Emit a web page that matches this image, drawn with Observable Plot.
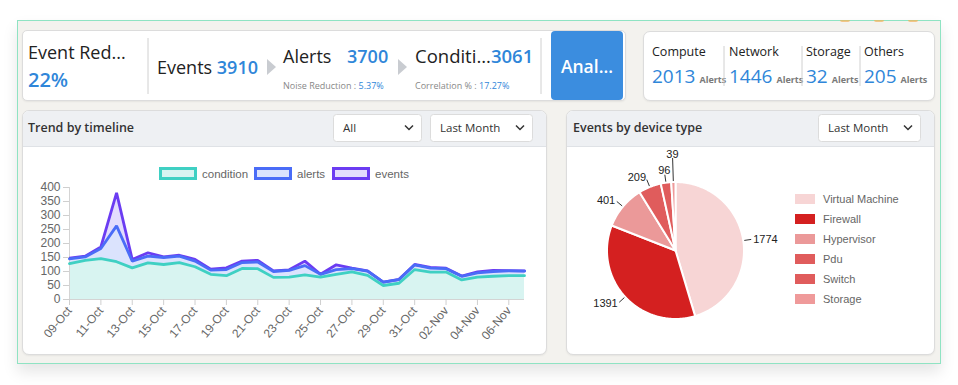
<!DOCTYPE html>
<html><head><meta charset="utf-8">
<script src="https://cdn.jsdelivr.net/npm/d3@7"></script>
<script src="https://cdn.jsdelivr.net/npm/@observablehq/plot@0.6"></script>
<style>
html,body{margin:0;padding:0;}
body{width:958px;height:385px;position:relative;overflow:hidden;background:#fff;font-family:"Open Sans","Noto Sans",sans-serif;}
.box{position:absolute;box-sizing:border-box;}
#outer{left:17px;top:20px;width:924px;height:344px;background:#f3f2ee;border:1.5px solid #8fe3c3;box-shadow:0 8px 14px rgba(0,0,0,0.10);}
.card{background:#fff;border:1px solid #dcdcdc;border-radius:7px;box-shadow:0 1px 2px rgba(0,0,0,0.06);overflow:hidden;}
.hdr{position:absolute;left:0;top:0;right:0;height:35px;background:#eef0f3;border-bottom:1px solid #dfe2e6;}
.dot{position:absolute;width:10px;height:2px;border-radius:0 0 5px 5px;background:#f2b25a;opacity:0.7;top:20px;}
#overlay{position:absolute;left:0;top:0;pointer-events:none;}
</style></head>
<body>
<div class="box" id="outer"></div>
<div class="dot" style="left:840px"></div>
<div class="dot" style="left:874px"></div>
<div class="dot" style="left:908px"></div>
<div class="box card" style="left:22px;top:30px;width:604px;height:71px;border-radius:5px"></div>
<div class="box" style="left:551px;top:31px;width:72px;height:69px;background:#3b8ddf;border-radius:4px"></div>
<div class="box card" style="left:643px;top:31px;width:292px;height:70px;"></div>
<div class="box card" style="left:22px;top:110px;width:525px;height:245px"><div class="hdr"></div></div>
<div class="box card" style="left:566px;top:110px;width:369px;height:245px"><div class="hdr"></div></div>
<div class="box" id="trend" style="left:22px;top:177px;width:524px;height:176px"></div>
<div class="box" id="pie" style="left:566px;top:146px;width:368px;height:208px;overflow:hidden"></div>
<svg id="overlay" width="958" height="385"></svg>
<script>
// ---------- data ----------
const dates = ["09-Oct","10-Oct","11-Oct","12-Oct","13-Oct","14-Oct","15-Oct","16-Oct","17-Oct","18-Oct","19-Oct","20-Oct","21-Oct","22-Oct","23-Oct","24-Oct","25-Oct","26-Oct","27-Oct","28-Oct","29-Oct","30-Oct","31-Oct","01-Nov","02-Nov","03-Nov","04-Nov","05-Nov","06-Nov","07-Nov"];
const xTicks = ["09-Oct","11-Oct","13-Oct","15-Oct","17-Oct","19-Oct","21-Oct","23-Oct","25-Oct","27-Oct","29-Oct","31-Oct","02-Nov","04-Nov","06-Nov"];
const yTicks = [0,50,100,150,200,250,300,350,400];
const condition = [128,140,146,135,113,131,125,132,117,90,85,111,110,79,80,88,80,90,99,86,50,58,107,98,98,70,80,83,85,85];
const alerts    = [145,152,182,263,137,155,150,155,137,105,107,132,134,100,104,121,90,107,110,101,62,71,124,112,110,83,95,100,102,101];
const events    = [148,155,188,381,143,167,152,158,143,108,113,137,140,102,106,137,90,124,112,102,62,72,125,115,112,84,99,104,103,102];
const seriesNames  = ["condition","alerts","events"];
const seriesStroke = ["#3fd0c3","#4a6cf7","#6b3cf2"];
const seriesFill   = ["#d8f4f1","#dbe3fd","#e3dcfd"];

const deviceTypes  = ["Virtual Machine","Firewall","Hypervisor","Pdu","Switch","Storage"];
const deviceCounts = [1774,1391,401,209,96,39];
const deviceColors = ["#f7d5d5","#d42020","#eb9999","#e05c5c","#e05c5c","#ef9a9a"];

const kpiNames  = ["Compute","Network","Storage","Others"];
const kpiAlerts = [2013,1446,32,205];

// ---------- trend chart ----------
const rows = dates.map((d,i)=>({idx:i, date:d, condition:condition[i], alerts:alerts[i], events:events[i]}));
const order = [2,1,0];
const trend = Plot.plot({
  width: 524, height: 176,
  marginLeft: 47, marginRight: 22, marginTop: 10, marginBottom: 54,
  style: {fontFamily: "'Liberation Sans', Arial, sans-serif", fontSize: "12px", color: "#666", background: "transparent", overflow: "visible"},
  x: {domain: [0, dates.length - 1]},
  y: {domain: [0, 400]},
  marks: [
    ...order.map(i => Plot.areaY(rows, {x: "idx", y: seriesNames[i], fill: seriesFill[i]})),
    Plot.ruleX([0], {stroke: "#d4d4d4"}),
    Plot.ruleY([0], {stroke: "#d4d4d4"}),
    ...order.map(i => Plot.lineY(rows, {x: "idx", y: seriesNames[i], stroke: seriesStroke[i], strokeWidth: 2.8, strokeLinejoin: "miter"})),
    Plot.axisY({ticks: yTicks, tickSize: 6, tickPadding: 3, stroke: "#cfcfcf", fill: "#666", label: null}),
    Plot.axisX({ticks: xTicks.map(d => dates.indexOf(d)), tickFormat: i => dates[i], tickRotate: -50, tickSize: 6, tickPadding: 3, stroke: "#cfcfcf", fill: "#666", label: null})
  ]
});
document.getElementById("trend").appendChild(trend);

// ---------- pie chart ----------
const pieData = deviceTypes.map((name,i)=>({name, count: deviceCounts[i], color: deviceColors[i]}));
const arcs = d3.pie().sort(null).value(d=>d.count)(pieData);
const R = 68.5;
const slicePolys = arcs.map(a => {
  const pts = [{x:0,y:0}];
  const n = Math.max(2, Math.ceil((a.endAngle - a.startAngle)/(Math.PI/360)));
  for (let k=0;k<=n;k++){ const t = a.startAngle + (a.endAngle-a.startAngle)*k/n; pts.push({x: R*Math.sin(t), y: R*Math.cos(t)}); }
  pts.push({x:0,y:0});
  return pts;
});
let prevMid = -Infinity;
const labels = arcs.map(a => {
  const mid = (a.startAngle + a.endAngle)/2;
  const s = Math.sin(mid), c = Math.cos(mid);
  const anchor = s > 0.3 ? "start" : s < -0.3 ? "end" : "middle";
  const extra = (mid - prevMid < 0.14) ? 16 : 0;
  prevMid = mid;
  const r1 = R + 1, r2 = R + 8 + extra, rt = R + (anchor === "middle" ? 12 : 10) + extra;
  return {label: String(a.data.count), anchor,
    x1: r1*s, y1: r1*c, x2: r2*s, y2: r2*c, tx: rt*s, ty: rt*c};
});
const pie = Plot.plot({
  width: 368, height: 208,
  margin: 0,
  style: {fontFamily: "'Liberation Sans', Arial, sans-serif", fontSize: "11px", color: "#222", background: "transparent", overflow: "visible"},
  x: {domain: [-109, 259], axis: null},
  y: {domain: [-104, 104], axis: null},
  marks: [
    ...slicePolys.map((pts,i) => Plot.line(pts, {x: "x", y: "y", fill: deviceColors[i], stroke: "#fff", strokeWidth: 2, curve: "linear"})),
    Plot.link(labels, {x1: "x1", y1: "y1", x2: "x2", y2: "y2", stroke: "#333", strokeWidth: 1}),
    ...["start","end","middle"].map(an => Plot.text(labels.filter(d => d.anchor === an), {x: "tx", y: "ty", text: "label", textAnchor: an, fill: "#222"}))
  ]
});
document.getElementById("pie").appendChild(pie);

// ---------- UI overlay ----------
const svg = d3.select("#overlay");
const BLUE = "#2f86d9";
const UIF = "'Open Sans','Noto Sans',sans-serif";
const CHF = "'Liberation Sans',Arial,sans-serif";
function T(x, y, parts, size, opts = {}) {
  const t = svg.append("text").attr("x", x).attr("y", y).attr("font-size", size)
    .attr("fill", opts.fill || "#222").attr("font-family", opts.family || UIF);
  if (opts.weight) t.attr("font-weight", opts.weight);
  if (opts.anchor) t.attr("text-anchor", opts.anchor);
  parts.forEach(p => {
    const s = t.append("tspan").text(p.t);
    if (p.fill) s.attr("fill", p.fill);
    if (p.w) s.attr("font-weight", p.w);
    if (p.x != null) s.attr("x", p.x);
    if (p.size) s.attr("font-size", p.size);
    if (p.dx) s.attr("dx", p.dx);
  });
}
function vline(x, y1, y2) { svg.append("line").attr("x1", x).attr("x2", x).attr("y1", y1).attr("y2", y2).attr("stroke", "#d0d0d0"); }
function arrow(x) { svg.append("path").attr("d", `M${x},59L${x+9},67L${x},75Z`).attr("fill", "#c9ccd1"); }

T(28, 59, [{t: "Event Red..."}], 18);
T(28, 87, [{t: "22%", fill: BLUE, w: 600}], 20);
vline(148, 38, 94);
T(157, 74, [{t: "Events "}, {t: "3910", fill: BLUE, w: 600}], 18);
arrow(267);
T(283, 63, [{t: "Alerts"}, {t: "3700", x: 347, fill: BLUE, w: 600}], 18);
T(283, 89, [{t: "Noise Reduction : "}, {t: "5.37%", fill: BLUE}], 9, {fill: "#888"});
arrow(398);
T(415, 63, [{t: "Conditi..."}, {t: "3061", fill: BLUE, w: 600}], 18.5);
T(415, 89, [{t: "Correlation % : "}, {t: "17.27%", fill: BLUE}], 9, {fill: "#888"});
vline(541, 38, 94);
T(587, 73, [{t: "Anal..."}], 17.5, {fill: "#fff", weight: 600, anchor: "middle"});

const kpiX = [652, 729, 806, 864];
kpiNames.forEach((n, i) => {
  T(kpiX[i], 56, [{t: n}], 12.5);
  T(kpiX[i], 83, [{t: String(kpiAlerts[i]), fill: BLUE}, {t: "Alerts", size: 9, w: 700, fill: "#7a7a7a", dx: 4}], 19);
});
[724, 802, 860].forEach(x => vline(x, 46, 86));

// headers and selects
T(28, 132, [{t: "Trend by timeline"}], 12.5, {weight: 600, fill: "#333"});
T(573, 132, [{t: "Events by device type"}], 12.5, {weight: 600, fill: "#333"});
function select(x, w, label) {
  svg.append("rect").attr("x", x + 0.5).attr("y", 114.5).attr("width", w).attr("height", 27).attr("rx", 3)
    .attr("fill", "#fff").attr("stroke", "#dcdcdc");
  T(x + 10, 132, [{t: label}], 11.5, {fill: "#333"});
  const cx = x + w - 12;
  svg.append("path").attr("d", `M${cx-4},125.5L${cx},129.5L${cx+4},125.5`).attr("fill", "none").attr("stroke", "#333").attr("stroke-width", 1.5);
}
select(333, 88, "All");
select(430, 102, "Last Month");
select(818, 102, "Last Month");

// trend legend
const legX = [159, 254, 332];
seriesNames.forEach((n, i) => {
  svg.append("rect").attr("x", legX[i] + 1.5).attr("y", 168.5).attr("width", 35).attr("height", 10)
    .attr("fill", seriesFill[i]).attr("stroke", seriesStroke[i]).attr("stroke-width", 3);
  T(legX[i] + 43, 178, [{t: n}], 11.5, {fill: "#666", family: CHF});
});

// pie legend
deviceTypes.forEach((n, i) => {
  svg.append("rect").attr("x", 795).attr("y", 194 + 20*i).attr("width", 20).attr("height", 10).attr("fill", deviceColors[i]);
  T(823, 203 + 20*i, [{t: n}], 11, {fill: "#666", family: CHF});
});
</script>
</body></html>
